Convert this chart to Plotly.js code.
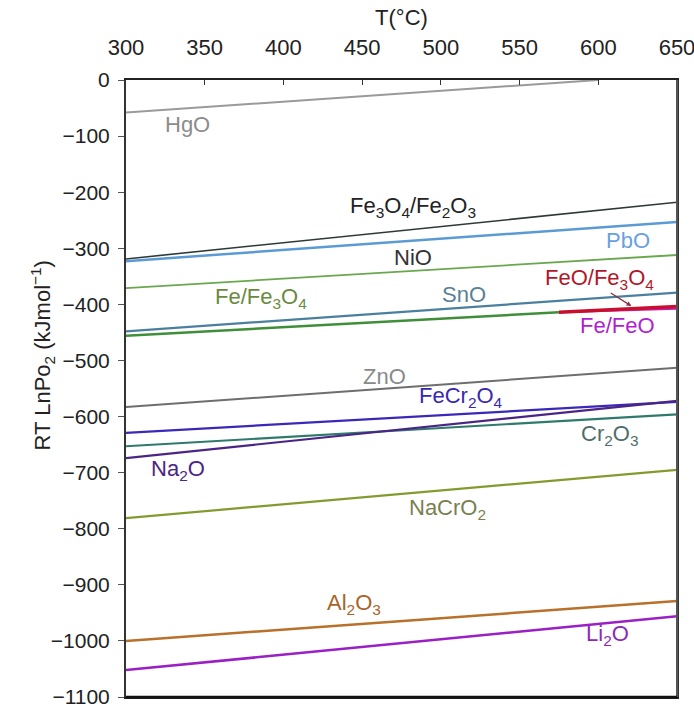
<!DOCTYPE html>
<html>
<head>
<meta charset="utf-8">
<script src="https://cdn.plot.ly/plotly-3.0.1.min.js"></script>
<style>
html,body{margin:0;padding:0;background:#fff;}
#chart{width:694px;height:711px;}
</style>
</head>
<body>
<div id="chart"></div>
<script>
// Temperatures (°C) at line ends
const tFull = [300, 650];
const tHgO = [300, 600];
const tLow = [300, 575];   // Fe/Fe3O4 stable below ~575 °C
const tHigh = [575, 650];  // wüstite region

// RT ln pO2 (kJ/mol) at line ends
const seriesNames = ["HgO","Fe3O4/Fe2O3","PbO","NiO","SnO","Fe/Fe3O4","FeO/Fe3O4","Fe/FeO","ZnO","FeCr2O4","Cr2O3","Na2O","NaCrO2","Al2O3","Li2O"];
const HgO       = [-58, 0];
const Fe3O4Fe2O3= [-319, -218];
const PbO       = [-323, -253];
const NiO       = [-371, -312];
const SnO       = [-448, -379];
const FeFe3O4   = [-456, -414];
const FeOFe3O4  = [-414, -404];
const FeFeO     = [-414, -408];
const ZnO       = [-583, -513];
const FeCr2O4   = [-629, -574];
const Cr2O3     = [-653, -596];
const Na2O      = [-674, -572];
const NaCrO2    = [-781, -695];
const Al2O3     = [-1000, -929];
const Li2O      = [-1052, -956];

// Axis ticks
const xTicks = [300, 350, 400, 450, 500, 550, 600, 650];
const yTicks = [0, -100, -200, -300, -400, -500, -600, -700, -800, -900, -1000, -1100];

// Label text and anchor positions (T, value)
const labelText = ["HgO","Fe<sub>3</sub>O<sub>4</sub>/Fe<sub>2</sub>O<sub>3</sub>","PbO","NiO","SnO","Fe/Fe<sub>3</sub>O<sub>4</sub>","FeO/Fe<sub>3</sub>O<sub>4</sub>","Fe/FeO","ZnO","FeCr<sub>2</sub>O<sub>4</sub>","Cr<sub>2</sub>O<sub>3</sub>","Na<sub>2</sub>O","NaCrO<sub>2</sub>","Al<sub>2</sub>O<sub>3</sub>","Li<sub>2</sub>O"];
const labelT   = [339, 482, 619, 482, 515, 386, 601, 612, 464, 513, 607, 333, 504, 445, 606];
const labelV   = [-80, -227, -286, -316, -383, -389, -355, -438, -529, -566, -633, -696, -765, -935, -990];

const lineColors = ["#9a9a9a","#2e3a36","#5b9bd5","#6aa84f","#4a7f9e","#3e8e3a","#c8102e","#c21fc2","#6e6e6e","#3a28b8","#2f7a6c","#4b2585","#839b2e","#b8702a","#9a1fc4"];
const labelColors = ["#8c8c8c","#222222","#6aa0e0","#333333","#5a7f96","#6a8a40","#b0182c","#b01fd0","#8a8a8a","#3a28b0","#4d6e6a","#4b2585","#7a7f50","#a8642a","#8a2ab4"];

const tArr = [tHgO, tFull, tFull, tFull, tFull, tLow, tHigh, tHigh, tFull, tFull, tFull, tFull, tFull, tFull, tFull];
const vArr = [HgO, Fe3O4Fe2O3, PbO, NiO, SnO, FeFe3O4, FeOFe3O4, FeFeO, ZnO, FeCr2O4, Cr2O3, Na2O, NaCrO2, Al2O3, Li2O];
const widths = [2,1.6,2.5,1.8,2.2,2.5,3.5,2,2,2.2,2.2,2.2,2.2,2.5,2.5];

const FONT = "Liberation Sans, Arial, sans-serif";

const traces = seriesNames.map((n, i) => ({
  type: "scatter", mode: "lines", name: n,
  x: tArr[i], y: vArr[i],
  line: {color: lineColors[i], width: widths[i]},
  hoverinfo: "name"
}));
// draw Fe/FeO under FeO/Fe3O4 so red shows on top
const ordered = traces.slice(0,6).concat([traces[7], traces[6]], traces.slice(8));

const annotations = labelText.map((t, i) => ({
  x: labelT[i], y: labelV[i], xref: "x", yref: "y",
  text: t, showarrow: false,
  font: {family: FONT, size: 22, color: labelColors[i]}
}));
// arrow from FeO/Fe3O4 label to its line
annotations.push({
  x: 621, y: -403, xref: "x", yref: "y",
  ax: 607, ay: -378, axref: "x", ayref: "y",
  text: "", showarrow: true, arrowhead: 2, arrowsize: 0.8, arrowwidth: 1.2, arrowcolor: "#8b3040"
});
// y-axis title (placed as annotation to match its vertical position)
annotations.push({
  xref: "paper", yref: "paper", x: -0.183, y: 0.553,
  text: "RT LnPo<sub>2</sub> (kJmol<sup>−1</sup>)", textangle: -90, showarrow: false,
  font: {family: FONT, size: 22, color: "#222"}
});

const layout = {
  width: 694, height: 711,
  margin: {l: 126, r: 17, t: 80, b: 14},
  paper_bgcolor: "#fff", plot_bgcolor: "#fff",
  showlegend: false,
  font: {family: FONT, size: 22, color: "#222"},
  xaxis: {
    side: "top", range: [300, 650], tickvals: xTicks,
    ticks: "inside", ticklen: 5, tickcolor: "#333",
    showline: true, linecolor: "#222", linewidth: 2, mirror: true,
    showgrid: false, zeroline: false,
    tickfont: {family: FONT, size: 22, color: "#222"},
    ticklabelstandoff: 14, ticklabeloverflow: "allow",
    title: {text: "T(°C)", font: {family: FONT, size: 22, color: "#222"}, standoff: 4}
  },
  yaxis: {
    range: [-1100, 0], tickvals: yTicks,
    ticks: "outside", ticklen: 6, tickcolor: "#555",
    showline: true, linecolor: "#333", linewidth: 2, mirror: true,
    showgrid: false, zeroline: false,
    tickfont: {family: FONT, size: 21, color: "#222"},
    ticklabelstandoff: 4, ticklabeloverflow: "allow"
  },
  shapes: [
    {type: "line", xref: "paper", yref: "paper", x0: 1, x1: 1, y0: 0, y1: 1, line: {color: "#555", width: 2}},
    {type: "line", xref: "paper", yref: "paper", x0: 0, x1: 1, y0: 0, y1: 0, line: {color: "#111", width: 2.5}}
  ],
  annotations: annotations
};

Plotly.newPlot("chart", ordered, layout, {staticPlot: true, displayModeBar: false});
</script>
</body>
</html>
